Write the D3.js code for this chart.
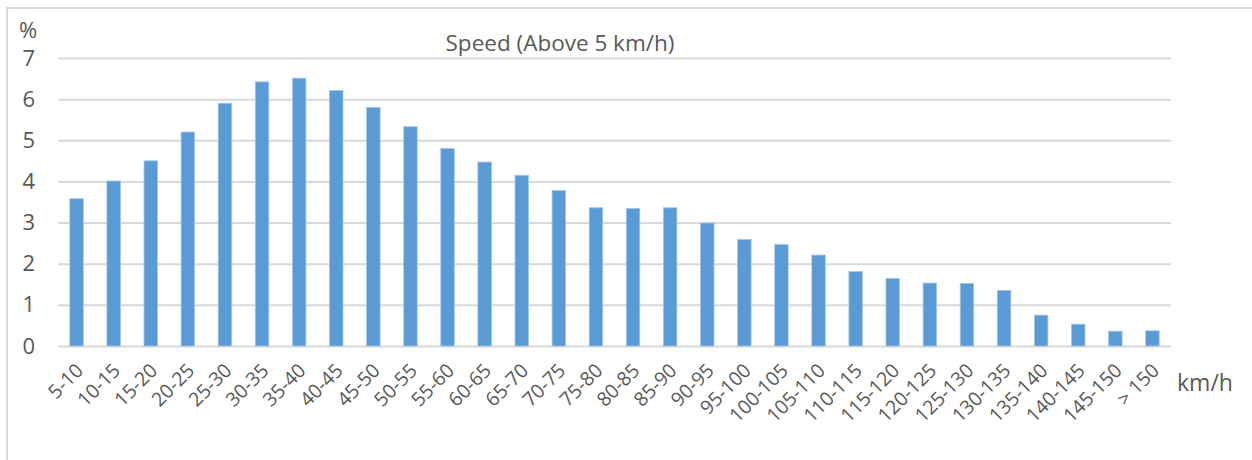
<!DOCTYPE html>
<html>
<head>
  <meta charset="utf-8">
  <script src="https://d3js.org/d3.v7.min.js"></script>
  <style>
    body { margin: 0; background: #fff; }
    text { font-family: "Open Sans", sans-serif; fill: #595959; }
  </style>
</head>
<body>
<script>
  // speed bins (km/h) and share of time (%)
  var categories = ["5-10", "10-15", "15-20", "20-25", "25-30", "30-35", "35-40", "40-45",
    "45-50", "50-55", "55-60", "60-65", "65-70", "70-75", "75-80", "80-85", "85-90",
    "90-95", "95-100", "100-105", "105-110", "110-115", "115-120", "120-125", "125-130",
    "130-135", "135-140", "140-145", "145-150", "> 150"];
  var values = [3.58, 4.01, 4.50, 5.20, 5.90, 6.42, 6.51, 6.21, 5.80, 5.33,
    4.80, 4.47, 4.15, 3.78, 3.36, 3.34, 3.36, 2.99, 2.59, 2.47,
    2.21, 1.81, 1.64, 1.53, 1.52, 1.35, 0.75, 0.53, 0.36, 0.37];
  var yTicks = [0, 1, 2, 3, 4, 5, 6, 7];

  var width = 1252, height = 460;
  var plotLeft = 58, plotRight = 1171, plotTop = 58, plotBottom = 346;

  var svg = d3.select("body").append("svg")
    .attr("width", width)
    .attr("height", height);

  // chart frame (right/bottom edges fall outside the picture)
  svg.append("rect")
    .attr("x", 7).attr("y", 8)
    .attr("width", 1400).attr("height", 600)
    .attr("fill", "none")
    .attr("stroke", "#d9d9d9")
    .attr("stroke-width", 2);

  var x = d3.scaleBand()
    .domain(categories)
    .range([plotLeft, plotRight])
    .paddingInner(0.636)
    .paddingOuter(0.318);

  var y = d3.scaleLinear()
    .domain([0, 7])
    .range([plotBottom, plotTop]);

  // gridlines + y labels
  var yAxis = d3.axisLeft(y)
    .tickValues(yTicks)
    .tickSize(-(plotRight - plotLeft))
    .tickPadding(23)
    .tickFormat(d3.format("d"));

  var gy = svg.append("g")
    .attr("transform", "translate(" + plotLeft + ",0)")
    .call(yAxis);
  gy.select(".domain").remove();
  gy.selectAll(".tick line")
    .attr("stroke", "#d9d9d9")
    .attr("stroke-width", 2);
  gy.selectAll(".tick text")
    .style("font-size", "22px")
    .attr("fill", "#595959");

  // bars
  svg.append("g").selectAll("rect")
    .data(values)
    .enter().append("rect")
    .attr("x", function (d, i) { return x(categories[i]); })
    .attr("y", function (d) { return y(d); })
    .attr("width", x.bandwidth())
    .attr("height", function (d) { return y(0) - y(d); })
    .attr("fill", "#5b9bd5")
    .attr("stroke", "#a4c5e8")
    .attr("stroke-width", 0.8);

  // x labels, rotated
  var xAxis = d3.axisBottom(x).tickSize(0).tickPadding(0);
  var gx = svg.append("g")
    .attr("transform", "translate(0," + plotBottom + ")")
    .call(xAxis);
  gx.select(".domain").remove();
  gx.selectAll(".tick text")
    .style("font-size", "19.5px")
    .attr("fill", "#595959")
    .attr("text-anchor", "end")
    .attr("y", 0)
    .attr("dy", "0.35em")
    .attr("transform", "translate(3,21) rotate(-45)");

  // title
  svg.append("text")
    .attr("x", 560)
    .attr("y", 51)
    .attr("text-anchor", "middle")
    .style("font-size", "22.5px")
    .text("Speed (Above 5 km/h)");

  // unit labels
  svg.append("text")
    .attr("x", 19)
    .attr("y", 38)
    .style("font-size", "22px")
    .text("%");

  svg.append("text")
    .attr("x", 1177)
    .attr("y", 391)
    .style("font-size", "23px")
    .text("km/h");
</script>
</body>
</html>
